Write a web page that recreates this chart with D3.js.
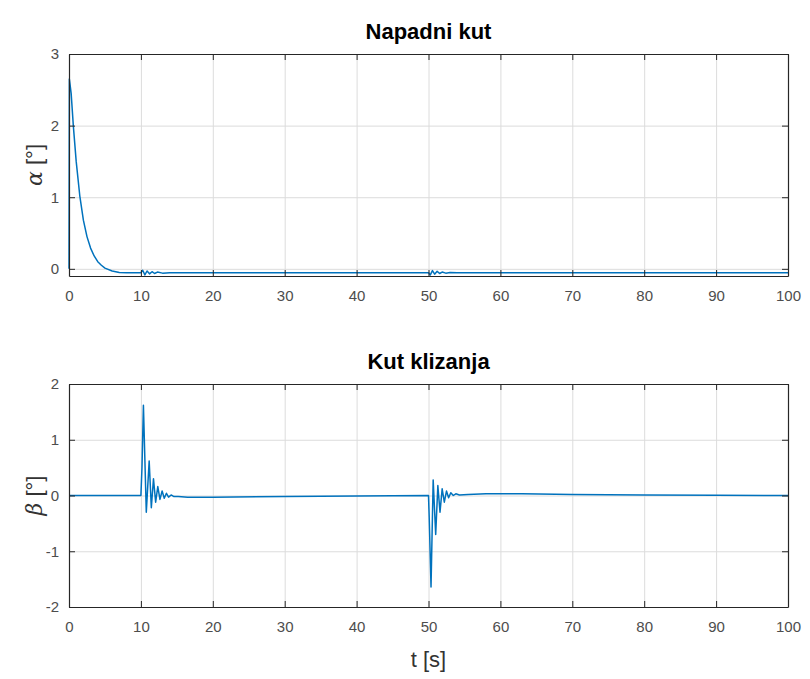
<!DOCTYPE html>
<html>
<head>
<meta charset="utf-8">
<script src="https://cdn.jsdelivr.net/npm/d3@7"></script>
<style>
  html, body { margin: 0; padding: 0; background: #fff; }
  svg { display: block; }
</style>
</head>
<body>
<svg id="chart" width="810" height="679"></svg>
<script>
// ---- Data ----
const xTicks = [0, 10, 20, 30, 40, 50, 60, 70, 80, 90, 100];
const alphaTicks = [0, 1, 2, 3];
const betaTicks = [-2, -1, 0, 1, 2];

const alphaT = [0, 0.05, 0.3, 0.6, 1.0, 1.5, 2.0, 2.5, 3.0, 3.5, 4.0, 4.5, 5.0, 6.0, 7.0, 8.0,
  10.0, 10.25, 10.55, 10.85, 11.2, 11.55, 11.9, 12.3, 13.0, 14.0,
  50.0, 50.25, 50.55, 50.85, 51.2, 51.55, 51.9, 52.4, 53.0, 54.0, 100];
const alphaV = [0, 2.65, 2.45, 2.0, 1.5, 1.02, 0.68, 0.45, 0.29, 0.18, 0.1, 0.05, 0.01, -0.03, -0.05, -0.055,
  -0.055, -0.02, -0.085, -0.03, -0.07, -0.04, -0.065, -0.045, -0.06, -0.055,
  -0.055, -0.085, -0.025, -0.075, -0.035, -0.065, -0.045, -0.06, -0.052, -0.055, -0.055];

const betaT = [0, 10.0, 10.15, 10.35, 10.75, 11.15, 11.45, 11.75, 12.05, 12.35, 12.65, 12.95, 13.25, 13.55, 13.85, 14.2, 14.6, 15.2, 16.5, 20, 30, 40, 50,
  50.1, 50.35, 50.65, 51.0, 51.3, 51.6, 51.9, 52.2, 52.5, 52.8, 53.1, 53.45, 53.8, 54.3, 55.5, 58, 63, 70, 80, 90, 100];
const betaV = [0, 0, 0.5, 1.62, -0.3, 0.62, -0.22, 0.3, -0.12, 0.16, -0.07, 0.08, -0.05, 0.04, -0.03, 0.01, -0.02, -0.02, -0.03, -0.03, -0.02, -0.01, 0,
  -0.4, -1.64, 0.28, -0.7, 0.18, -0.3, 0.12, -0.12, 0.08, -0.04, 0.05, 0.0, 0.03, 0.01, 0.02, 0.03, 0.03, 0.02, 0.01, 0.005, 0];

// ---- Layout ----
const svg = d3.select("#chart");
const X0 = 69, X1 = 788;
const FONT = "'Liberation Sans', Arial, Helvetica, sans-serif";
const AX = "#262626";
const LINE = "#0072BD";
const fmt = d => String(d);

const x = d3.scaleLinear().domain([0, 100]).range([X0, X1]);

function panel(top, bottom, yDomain, yTicks, tVals, vVals, title, sym) {
  const y = d3.scaleLinear().domain(yDomain).range([bottom, top]);
  const g = svg.append("g");
  const H = bottom - top, W = X1 - X0;

  // grid
  g.append("g").attr("transform", `translate(0,${bottom})`)
    .call(d3.axisBottom(x).tickValues(xTicks).tickSize(-H).tickFormat(""))
    .call(s => s.select(".domain").remove())
    .call(s => s.selectAll("line").attr("stroke", "#dcdcdc").attr("stroke-width", 1));
  g.append("g").attr("transform", `translate(${X0},0)`)
    .call(d3.axisLeft(y).tickValues(yTicks).tickSize(-W).tickFormat(""))
    .call(s => s.select(".domain").remove())
    .call(s => s.selectAll("line").attr("stroke", "#dcdcdc").attr("stroke-width", 1));

  // line
  const pts = tVals.map((t, i) => [t, vVals[i]]);
  g.append("path").datum(pts)
    .attr("fill", "none").attr("stroke", LINE).attr("stroke-width", 1.5)
    .attr("stroke-linejoin", "round")
    .attr("d", d3.line().x(d => x(d[0])).y(d => y(d[1])));

  // axes with inward ticks
  const styleAxis = s => {
    s.select(".domain").attr("stroke", AX).attr("stroke-width", 1.2);
    s.selectAll(".tick line").attr("stroke", AX);
    s.selectAll("text").attr("fill", "#4d4d4d").style("font-family", FONT).style("font-size", "15px");
  };
  g.append("g").attr("transform", `translate(0,${bottom})`)
    .call(d3.axisBottom(x).tickValues(xTicks).tickSizeInner(-6).tickSizeOuter(0).tickPadding(14).tickFormat(fmt))
    .call(styleAxis);
  g.append("g").attr("transform", `translate(0,${top})`)
    .call(d3.axisTop(x).tickValues(xTicks).tickSizeInner(-6).tickSizeOuter(0).tickFormat(""))
    .call(styleAxis);
  g.append("g").attr("transform", `translate(${X0},0)`)
    .call(d3.axisLeft(y).tickValues(yTicks).tickSizeInner(-6).tickSizeOuter(0).tickPadding(10).tickFormat(fmt))
    .call(styleAxis);
  g.append("g").attr("transform", `translate(${X1},0)`)
    .call(d3.axisRight(y).tickValues(yTicks).tickSizeInner(-6).tickSizeOuter(0).tickFormat(""))
    .call(styleAxis);

  // title
  svg.append("text").attr("x", (X0 + X1) / 2).attr("y", top - 15)
    .attr("text-anchor", "middle").style("font-family", FONT)
    .style("font-size", "22px").style("font-weight", "bold").attr("fill", "#000")
    .text(title);

  // y label
  const yl = svg.append("text")
    .attr("transform", `translate(42,${(top + bottom) / 2}) rotate(-90)`)
    .attr("text-anchor", "middle").attr("fill", "#333")
    .style("font-size", "22px");
  yl.append("tspan").style("font-family", "'DejaVu Serif', 'Liberation Serif', serif")
    .style("font-style", "italic").text(sym);
  yl.append("tspan").style("font-family", FONT).text(" [°]");
}

panel(54, 276, [-0.1, 3], alphaTicks, alphaT, alphaV, "Napadni kut", "α");
panel(384, 607, [-2, 2], betaTicks, betaT, betaV, "Kut klizanja", "β");

svg.append("text").attr("x", (X0 + X1) / 2).attr("y", 667)
  .attr("text-anchor", "middle").attr("fill", "#333")
  .style("font-family", FONT).style("font-size", "22px").text("t [s]");
</script>
</body>
</html>
